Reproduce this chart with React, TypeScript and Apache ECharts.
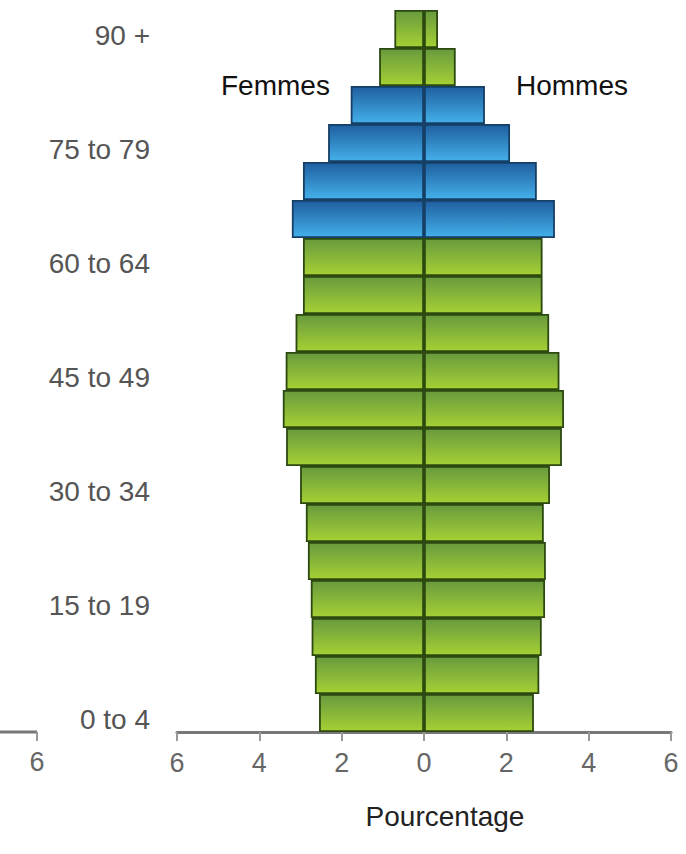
import React, { useEffect, useRef } from "react";
import * as echarts from "echarts";

const categories = [
  "0 to 4", "5 to 9", "10 to 14", "15 to 19", "20 to 24", "25 to 29", "30 to 34",
  "35 to 39", "40 to 44", "45 to 49", "50 to 54", "55 to 59", "60 to 64",
  "65 to 69", "70 to 74", "75 to 79", "80 to 84", "85 to 89", "90 +",
];
const femmes = [2.55, 2.65, 2.73, 2.75, 2.82, 2.87, 3.01, 3.35, 3.43, 3.36, 3.12, 2.94, 2.94, 3.21, 2.94, 2.33, 1.78, 1.09, 0.72];
const hommes = [2.67, 2.8, 2.86, 2.94, 2.96, 2.91, 3.06, 3.35, 3.4, 3.29, 3.04, 2.88, 2.88, 3.18, 2.74, 2.09, 1.48, 0.77, 0.34];
const blueGroups = ["65 to 69", "70 to 74", "75 to 79", "80 to 84"];
const xTicks = [-6, -4, -2, 0, 2, 4, 6];

const FONT = '"Liberation Sans", Arial, sans-serif';

export default function App() {
  const ref = useRef<HTMLDivElement>(null);
  useEffect(() => {
    if (!ref.current) return;
    const chart = echarts.init(ref.current, undefined, { renderer: "svg" });
    const green = () =>
      new echarts.graphic.LinearGradient(0, 0, 0, 1, [
        { offset: 0, color: "#689a3e" },
        { offset: 1, color: "#a6d034" },
      ]);
    const blue = () =>
      new echarts.graphic.LinearGradient(0, 0, 0, 1, [
        { offset: 0, color: "#1f5f9f" },
        { offset: 1, color: "#44b0ea" },
      ]);
    const itemFor = (cat: string, v: number) => {
      const isBlue = blueGroups.includes(cat);
      return {
        value: v,
        itemStyle: {
          color: isBlue ? blue() : green(),
          borderColor: isBlue ? "#163f66" : "#2c4a10",
          borderWidth: 1.8,
        },
      };
    };
    chart.setOption({
      animation: false,
      textStyle: { fontFamily: FONT },
      grid: { left: 177, right: 15, top: 10, bottom: 122, containLabel: false },
      xAxis: {
        type: "value",
        min: xTicks[0],
        max: xTicks[xTicks.length - 1],
        interval: 2,
        splitLine: { show: false },
        axisLine: { show: true, lineStyle: { color: "#777", width: 3 } },
        axisTick: { show: true, length: 9, lineStyle: { color: "#999", width: 2 } },
        axisLabel: {
          formatter: (v: number) => String(Math.abs(v)),
          fontSize: 27,
          color: "#666",
          margin: 17,
          fontFamily: FONT,
        },
        name: "Pourcentage",
        nameLocation: "middle",
        nameGap: 70,
        nameTextStyle: { fontSize: 28, color: "#222", fontFamily: FONT, padding: [0, 0, 0, 42] },
      },
      yAxis: {
        type: "category",
        data: categories,
        axisLine: { show: false },
        axisTick: { show: false },
        axisLabel: {
          interval: 2,
          fontSize: 28,
          lineHeight: 12,
          verticalAlign: "top",
          color: "#555",
          margin: 27,
          fontFamily: FONT,
        },
      },
      series: [
        {
          name: "Femmes",
          type: "bar",
          stack: "total",
          barCategoryGap: "0%",
          data: categories.map((c, i) => itemFor(c, -femmes[i])),
        },
        {
          name: "Hommes",
          type: "bar",
          stack: "total",
          barCategoryGap: "0%",
          data: categories.map((c, i) => itemFor(c, hommes[i])),
        },
      ],
      graphic: [
        { type: "text", left: 221, top: 71, style: { text: "Femmes", fontSize: 28, fill: "#111", fontFamily: FONT } },
        { type: "text", left: 516, top: 71, style: { text: "Hommes", fontSize: 28, fill: "#111", fontFamily: FONT } },
        { type: "line", shape: { x1: 0, y1: 732, x2: 37, y2: 732 }, style: { stroke: "#777", lineWidth: 3 } },
        { type: "line", shape: { x1: 37, y1: 732, x2: 37, y2: 741 }, style: { stroke: "#999", lineWidth: 2 } },
        { type: "text", x: 37, y: 762, style: { text: "6", fontSize: 27, fill: "#666", fontFamily: FONT, align: "center", verticalAlign: "middle" } },
      ],
    });
    return () => chart.dispose();
  }, []);
  return (
    <div
      ref={ref}
      style={{ position: "fixed", left: 0, top: 0, width: 686, height: 854, background: "#fff" }}
    />
  );
}
